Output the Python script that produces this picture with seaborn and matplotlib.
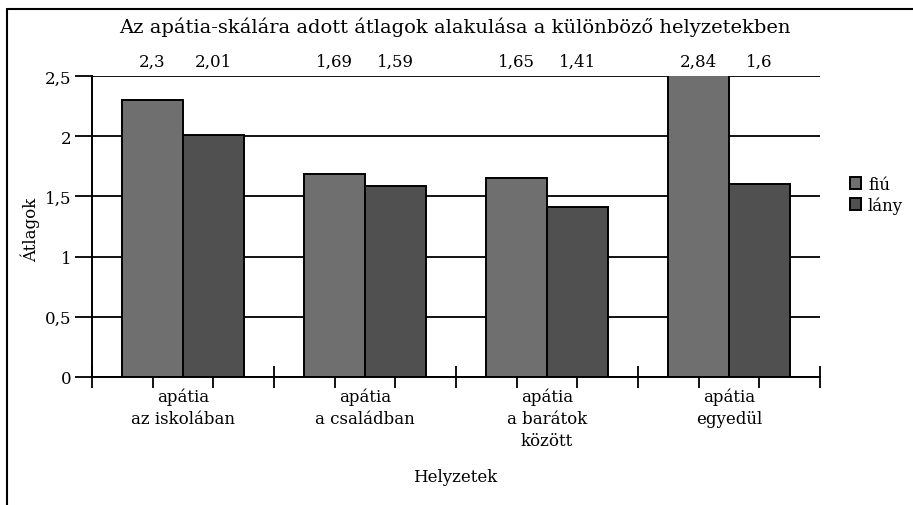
import matplotlib
matplotlib.use("Agg")
import matplotlib.pyplot as plt
from matplotlib.lines import Line2D
from matplotlib.ticker import FixedLocator
import seaborn as sns
import pandas as pd

# Data
situations = ["apátia\naz iskolában", "apátia\na családban",
              "apátia\na barátok\nközött", "apátia\negyedül"]
groups = ["fiú", "lány"]
fiu_values = [2.3, 1.69, 1.65, 2.84]
lany_values = [2.01, 1.59, 1.41, 1.6]
y_ticks = [0, 0.5, 1, 1.5, 2, 2.5]
y_tick_labels = ["0", "0,5", "1", "1,5", "2", "2,5"]

df = pd.DataFrame({
    "Helyzet": situations * 2,
    "Nem": [groups[0]] * len(situations) + [groups[1]] * len(situations),
    "Átlag": fiu_values + lany_values,
})

sns.set_theme(style="white")
plt.rcParams["font.family"] = ["DejaVu Serif"]
plt.rcParams["text.color"] = "black"
plt.rcParams["xtick.color"] = "black"
plt.rcParams["ytick.color"] = "black"
plt.rcParams["xtick.labelcolor"] = "black"
plt.rcParams["ytick.labelcolor"] = "black"

fig = plt.figure(figsize=(9.13, 5.06), dpi=100)
ax = fig.add_axes([92 / 913, 128 / 506, 728 / 913, 301 / 506])

sns.barplot(data=df, x="Helyzet", y="Átlag", hue="Nem", order=situations,
            hue_order=groups, palette=["#6f6f6f", "#505050"],
            width=0.67, edgecolor="black", linewidth=1.4, saturation=1,
            ax=ax)

ax.set_ylim(0, 2.5)
ax.set_xlim(-0.5, len(situations) - 0.5)
ax.set_yticks(y_ticks)
ax.set_yticklabels(y_tick_labels, fontsize=12, color="black")
ax.yaxis.grid(True, color="black", linewidth=1.3)
ax.set_axisbelow(True)
ax.tick_params(axis="y", length=12, width=1.3, color="black", pad=3,
               left=True)

for side in ["top", "right"]:
    ax.spines[side].set_visible(False)
for side in ["left", "bottom"]:
    ax.spines[side].set_color("black")
    ax.spines[side].set_linewidth(1.4)

# Ticks under each bar, category boundaries as crossing minor ticks
bars = [p for p in ax.patches if p.get_height() > 0]
centers = sorted(p.get_x() + p.get_width() / 2 for p in bars)
ax.xaxis.set_major_locator(FixedLocator(centers))
ax.set_xticklabels([""] * len(centers))
ax.xaxis.set_minor_locator(FixedLocator(
    [i - 0.5 for i in range(len(situations) + 1)]))
ax.tick_params(axis="x", which="major", length=8, width=1.3,
               color="black", bottom=True, direction="out")
ax.tick_params(axis="x", which="minor", length=16, width=1.3,
               color="black", bottom=True, direction="inout")

for i, lab in enumerate(situations):
    ax.annotate(lab, xy=(i, 0), xycoords=("data", "axes fraction"),
                xytext=(0, -11), textcoords="offset pixels",
                ha="center", va="top", fontsize=12, linespacing=1.35,
                color="black")

# Value row above the plot
for p in bars:
    x = p.get_x() + p.get_width() / 2
    v = p.get_height()
    ax.annotate(f"{v:g}".replace(".", ","), xy=(x, 1),
                xycoords=("data", "axes fraction"), xytext=(0, 15),
                textcoords="offset pixels", ha="center", va="center",
                fontsize=12, color="black")

ax.set_xlabel("")
ax.set_ylabel("")
fig.text(455 / 913, 1 - 478 / 506, "Helyzetek", ha="center",
         va="center", fontsize=12, color="black")
fig.text(30 / 913, 1 - 230 / 506, "Átlagok", ha="center", va="center",
         rotation=90, fontsize=12, color="black")
fig.text(455 / 913, 1 - 27 / 506,
         "Az apátia-skálára adott átlagok alakulása a különböző helyzetekben",
         ha="center", va="center", fontsize=14, color="black")

leg = ax.legend(loc="center left", bbox_to_anchor=(843 / 913, 1 - 196 / 506),
                bbox_transform=fig.transFigure, frameon=False, fontsize=12,
                handlelength=0.7, handleheight=0.7, handletextpad=0.4,
                labelspacing=0.2, borderaxespad=0)
leg.set_title(None)
for t in leg.get_texts():
    t.set_color("black")

# Chart frame
fig.add_artist(Line2D([7 / 913, 7 / 913], [0, 1 - 10 / 506],
                      transform=fig.transFigure, color="black", lw=1.5))
fig.add_artist(Line2D([7 / 913, 1], [1 - 10 / 506, 1 - 10 / 506],
                      transform=fig.transFigure, color="black", lw=1.5))

fig.savefig("out.png", dpi=100)
